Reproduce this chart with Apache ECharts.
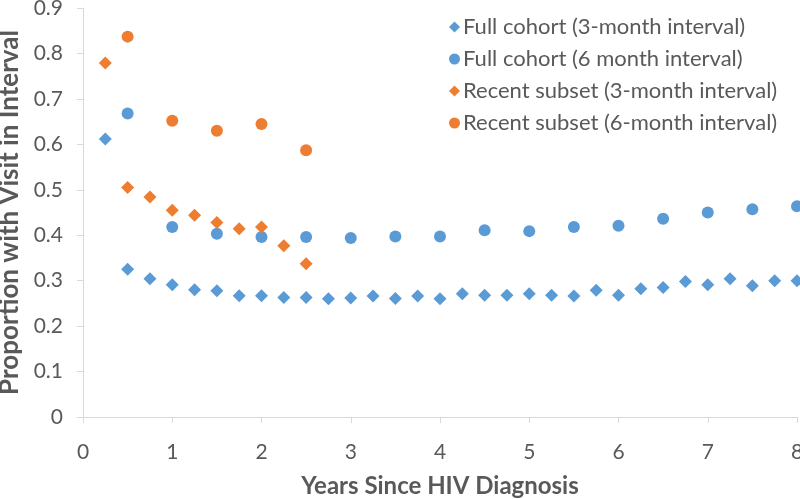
<!DOCTYPE html>
<html>
<head>
<meta charset="utf-8">
<script src="https://cdn.jsdelivr.net/npm/echarts@6/dist/echarts.min.js"></script>
<style>html,body{margin:0;padding:0;background:#fff}#c{width:800px;height:499px}</style>
</head>
<body>
<div id="c"></div>
<script>
const seriesNames = [
  'Full cohort (3-month interval)',
  'Full cohort (6 month interval)',
  'Recent subset (3-month interval)',
  'Recent subset (6-month interval)'
];
const x3 = [0.25,0.5,0.75,1,1.25,1.5,1.75,2,2.25,2.5,2.75,3,3.25,3.5,3.75,4,4.25,4.5,4.75,5,5.25,5.5,5.75,6,6.25,6.5,6.75,7,7.25,7.5,7.75,8];
const full3 = [0.612,0.325,0.304,0.291,0.280,0.278,0.267,0.267,0.263,0.263,0.260,0.262,0.266,0.261,0.266,0.260,0.271,0.268,0.268,0.271,0.268,0.266,0.279,0.268,0.282,0.285,0.298,0.291,0.304,0.289,0.300,0.300];
const x6 = [0.5,1,1.5,2,2.5,3,3.5,4,4.5,5,5.5,6,6.5,7,7.5,8];
const full6 = [0.668,0.418,0.403,0.396,0.396,0.394,0.397,0.397,0.411,0.409,0.418,0.421,0.436,0.450,0.457,0.464];
const xr3 = [0.25,0.5,0.75,1,1.25,1.5,1.75,2,2.25,2.5];
const recent3 = [0.779,0.505,0.484,0.455,0.444,0.428,0.414,0.418,0.377,0.337];
const xr6 = [0.5,1,1.5,2,2.5];
const recent6 = [0.837,0.652,0.630,0.645,0.587];
const xTicks = [0,1,2,3,4,5,6,7,8];
const yTicks = [0,0.1,0.2,0.3,0.4,0.5,0.6,0.7,0.8,0.9];

const blue = '#5B9BD5', orange = '#ED7D31', gray = '#595959', axisGray = '#D9D9D9';
const font = 'Lato';
const zip = (xs, ys) => xs.map((x, i) => [x, ys[i]]);

const chart = echarts.init(document.getElementById('c'), null, {renderer: 'canvas'});
chart.setOption({
  animation: false,
  textStyle: {fontFamily: font},
  grid: {left: 83, right: 3, top: 8, bottom: 82, containLabel: false, outerBoundsMode: 'none'},
  legend: {
    orient: 'vertical',
    left: 444, top: 6,
    itemWidth: 11, itemHeight: 11, itemGap: 0,
    textStyle: {fontFamily: font, fontSize: 22, color: gray, padding: [0,0,0,-2], lineHeight: 32},
    data: [
      {name: seriesNames[0], icon: 'diamond'},
      {name: seriesNames[1], icon: 'circle'},
      {name: seriesNames[2], icon: 'diamond'},
      {name: seriesNames[3], icon: 'circle'}
    ]
  },
  xAxis: {
    type: 'value', min: xTicks[0], max: xTicks[xTicks.length-1], interval: 1,
    name: 'Years Since HIV Diagnosis', nameLocation: 'middle', nameGap: 57,
    nameTextStyle: {fontFamily: font, fontSize: 24, fontWeight: 'bold', color: gray},
    axisLine: {lineStyle: {color: axisGray, width: 1}},
    axisTick: {show: true, length: 6, lineStyle: {color: axisGray}},
    axisLabel: {fontFamily: font, fontSize: 21, color: gray, margin: 25},
    splitLine: {show: false}
  },
  yAxis: {
    type: 'value', min: yTicks[0], max: yTicks[yTicks.length-1], interval: 0.1,
    name: 'Proportion with Visit in Interval', nameLocation: 'middle', nameGap: 53,
    nameTextStyle: {fontFamily: font, fontSize: 26, fontWeight: 'bold', color: gray},
    axisLine: {show: true, lineStyle: {color: axisGray, width: 1}},
    axisTick: {show: true, length: 6, lineStyle: {color: axisGray}},
    axisLabel: {fontFamily: font, fontSize: 21, color: gray, margin: 20,
      formatter: v => String(Math.round(v*10)/10)},
    splitLine: {show: false}
  },
  series: [
    {name: seriesNames[0], type: 'scatter', symbol: 'diamond', symbolSize: 13, itemStyle: {color: blue, opacity: 1}, data: zip(x3, full3)},
    {name: seriesNames[1], type: 'scatter', symbol: 'circle', symbolSize: 12, itemStyle: {color: blue, opacity: 1}, data: zip(x6, full6)},
    {name: seriesNames[2], type: 'scatter', symbol: 'diamond', symbolSize: 13, itemStyle: {color: orange, opacity: 1}, data: zip(xr3, recent3)},
    {name: seriesNames[3], type: 'scatter', symbol: 'circle', symbolSize: 12, itemStyle: {color: orange, opacity: 1}, data: zip(xr6, recent6)}
  ]
});
</script>
</body>
</html>
